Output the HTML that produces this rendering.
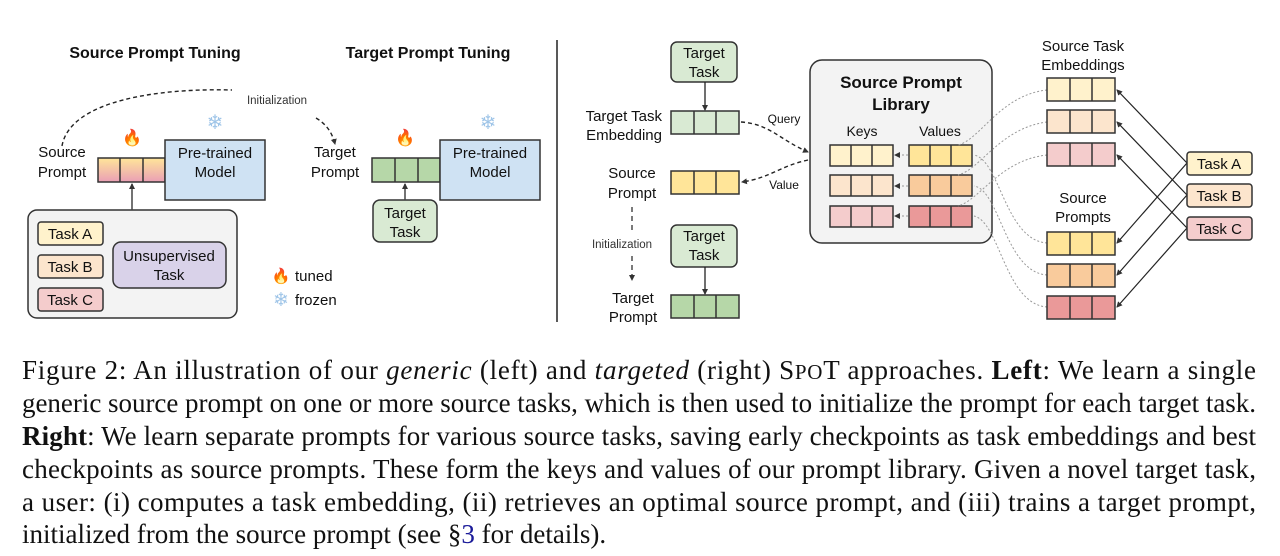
<!DOCTYPE html>
<html><head><meta charset="utf-8"><style>
html,body{margin:0;padding:0;background:#fff;}
svg{display:block;}
.s{font-family:"Liberation Sans",sans-serif;}
.c{font-family:"Liberation Serif",serif;font-size:27px;fill:#111;}
</style></head><body>
<svg width="1280" height="556" viewBox="0 0 1280 556" xmlns="http://www.w3.org/2000/svg">
<defs>
<marker id="ahs" markerWidth="6" markerHeight="6" refX="5" refY="3" orient="auto" markerUnits="userSpaceOnUse"><path d="M0,0 L6,3 L0,6 z" fill="#333"/></marker>
<linearGradient id="sp" x1="0" y1="0" x2="0" y2="1"><stop offset="0" stop-color="#ffe599"/><stop offset="1" stop-color="#ea9fb5"/></linearGradient>
</defs>
<g class="s" fill="#111">
<text x="155" y="58" font-size="16" font-weight="bold" text-anchor="middle">Source Prompt Tuning</text>
<text x="428" y="58" font-size="16" font-weight="bold" text-anchor="middle">Target Prompt Tuning</text>
<line x1="557" y1="40" x2="557" y2="322" stroke="#222" stroke-width="1.5"/>

<path d="M62,146 C70,100 160,88 232,90" fill="none" stroke="#222" stroke-width="1.4" stroke-dasharray="4,3"/>
<path d="M316,118 C326,124 332,132 335,144" fill="none" stroke="#222" stroke-width="1.4" stroke-dasharray="4,3" marker-end="url(#ahs)"/>
<text x="277" y="104" font-size="11.5" text-anchor="middle" fill="#333">Initialization</text>

<text x="62" y="157" font-size="15" text-anchor="middle">Source</text>
<text x="62" y="177" font-size="15" text-anchor="middle">Prompt</text>
<rect x="98" y="158" width="67" height="24" fill="url(#sp)" stroke="#333" stroke-width="1.5"/>
<line x1="120" y1="158" x2="120" y2="182" stroke="#333" stroke-width="1.5"/>
<line x1="143" y1="158" x2="143" y2="182" stroke="#333" stroke-width="1.5"/>
<rect x="165" y="140" width="100" height="60" fill="#cfe2f3" stroke="#333" stroke-width="1.5"/>
<text x="215" y="158" font-size="15" text-anchor="middle">Pre-trained</text>
<text x="215" y="177" font-size="15" text-anchor="middle">Model</text>
<text x="132" y="143" font-size="16" text-anchor="middle">🔥</text>
<text x="215" y="129" font-size="20" text-anchor="middle" fill="#9fc5e8">❄</text>

<rect x="28" y="210" width="209" height="108" rx="9" fill="#f3f3f3" stroke="#333" stroke-width="1.5"/>
<line x1="132" y1="210" x2="132" y2="184" stroke="#444" stroke-width="1.5" marker-end="url(#ahs)"/>
<rect x="38" y="222" width="65" height="23" rx="3" fill="#fff2cc" stroke="#333" stroke-width="1.5"/>
<text x="70" y="239" font-size="15" text-anchor="middle">Task A</text>
<rect x="38" y="255" width="65" height="23" rx="3" fill="#fce5cd" stroke="#333" stroke-width="1.5"/>
<text x="70" y="272" font-size="15" text-anchor="middle">Task B</text>
<rect x="38" y="288" width="65" height="23" rx="3" fill="#f4cccc" stroke="#333" stroke-width="1.5"/>
<text x="70" y="305" font-size="15" text-anchor="middle">Task C</text>
<rect x="113" y="242" width="113" height="46" rx="8" fill="#d9d2e9" stroke="#333" stroke-width="1.5"/>
<text x="169" y="261" font-size="15" text-anchor="middle">Unsupervised</text>
<text x="169" y="280" font-size="15" text-anchor="middle">Task</text>

<text x="281" y="281" font-size="15" text-anchor="middle">🔥</text>
<text x="295" y="281" font-size="15">tuned</text>
<text x="281" y="306" font-size="19" text-anchor="middle" fill="#9fc5e8">❄</text>
<text x="295" y="305" font-size="15">frozen</text>

<text x="335" y="157" font-size="15" text-anchor="middle">Target</text>
<text x="335" y="177" font-size="15" text-anchor="middle">Prompt</text>
<rect x="372" y="158" width="68" height="24" fill="#b6d7a8" stroke="#333" stroke-width="1.5"/>
<line x1="395" y1="158" x2="395" y2="182" stroke="#333" stroke-width="1.5"/>
<line x1="418" y1="158" x2="418" y2="182" stroke="#333" stroke-width="1.5"/>
<rect x="440" y="140" width="100" height="60" fill="#cfe2f3" stroke="#333" stroke-width="1.5"/>
<text x="490" y="158" font-size="15" text-anchor="middle">Pre-trained</text>
<text x="490" y="177" font-size="15" text-anchor="middle">Model</text>
<text x="405" y="143" font-size="16" text-anchor="middle">🔥</text>
<text x="488" y="129" font-size="20" text-anchor="middle" fill="#9fc5e8">❄</text>
<rect x="373" y="200" width="64" height="42" rx="7" fill="#d9ead3" stroke="#333" stroke-width="1.5"/>
<text x="405" y="218" font-size="15" text-anchor="middle">Target</text>
<text x="405" y="237" font-size="15" text-anchor="middle">Task</text>
<line x1="405" y1="200" x2="405" y2="184" stroke="#444" stroke-width="1.5" marker-end="url(#ahs)"/>

<rect x="671" y="42" width="66" height="40" rx="6" fill="#d9ead3" stroke="#333" stroke-width="1.5"/>
<text x="704" y="58" font-size="15" text-anchor="middle">Target</text>
<text x="704" y="77" font-size="15" text-anchor="middle">Task</text>
<line x1="705" y1="82" x2="705" y2="110" stroke="#222" stroke-width="1.3" marker-end="url(#ahs)"/>
<text x="662" y="121" font-size="15" text-anchor="end">Target Task</text>
<text x="662" y="140" font-size="15" text-anchor="end">Embedding</text>
<g stroke="#333" stroke-width="1.5">
<rect x="671" y="111" width="68" height="23" fill="#d9ead3"/><line x1="694" y1="111" x2="694" y2="134"/><line x1="716" y1="111" x2="716" y2="134"/>
<rect x="671" y="171" width="68" height="23" fill="#ffe599"/><line x1="694" y1="171" x2="694" y2="194"/><line x1="716" y1="171" x2="716" y2="194"/>
<rect x="671" y="295" width="68" height="23" fill="#b6d7a8"/><line x1="694" y1="295" x2="694" y2="318"/><line x1="716" y1="295" x2="716" y2="318"/>
</g>
<text x="632" y="178" font-size="15" text-anchor="middle">Source</text>
<text x="632" y="198" font-size="15" text-anchor="middle">Prompt</text>
<line x1="632" y1="207" x2="632" y2="230" stroke="#333" stroke-width="1.3" stroke-dasharray="5,4"/>
<text x="622" y="248" font-size="11.5" text-anchor="middle" fill="#333">Initialization</text>
<line x1="632" y1="256" x2="632" y2="280" stroke="#333" stroke-width="1.3" stroke-dasharray="5,4" marker-end="url(#ahs)"/>
<text x="633" y="303" font-size="15" text-anchor="middle">Target</text>
<text x="633" y="322" font-size="15" text-anchor="middle">Prompt</text>
<rect x="671" y="225" width="66" height="42" rx="6" fill="#d9ead3" stroke="#333" stroke-width="1.5"/>
<text x="704" y="241" font-size="15" text-anchor="middle">Target</text>
<text x="704" y="260" font-size="15" text-anchor="middle">Task</text>
<line x1="705" y1="267" x2="705" y2="294" stroke="#222" stroke-width="1.3" marker-end="url(#ahs)"/>

<path d="M741,122 C770,124 780,140 808,152" fill="none" stroke="#222" stroke-width="1.4" stroke-dasharray="4,3" marker-end="url(#ahs)"/>
<path d="M808,160 C780,166 770,178 742,182" fill="none" stroke="#222" stroke-width="1.4" stroke-dasharray="4,3" marker-end="url(#ahs)"/>
<text x="784" y="123" font-size="12" text-anchor="middle">Query</text>
<text x="784" y="189" font-size="12" text-anchor="middle">Value</text>

<rect x="810" y="60" width="182" height="183" rx="12" fill="#f3f3f3" stroke="#333" stroke-width="1.5"/>
<text x="901" y="88" font-size="17" font-weight="bold" text-anchor="middle">Source Prompt</text>
<text x="901" y="110" font-size="17" font-weight="bold" text-anchor="middle">Library</text>
<text x="862" y="136" font-size="14" text-anchor="middle">Keys</text>
<text x="940" y="136" font-size="14" text-anchor="middle">Values</text>
<g stroke="#333" stroke-width="1.5">
<rect x="830" y="145" width="63" height="21" fill="#fff2cc"/><line x1="851" y1="145" x2="851" y2="166"/><line x1="872" y1="145" x2="872" y2="166"/>
<rect x="830" y="175" width="63" height="21" fill="#fce5cd"/><line x1="851" y1="175" x2="851" y2="196"/><line x1="872" y1="175" x2="872" y2="196"/>
<rect x="830" y="206" width="63" height="21" fill="#f4cccc"/><line x1="851" y1="206" x2="851" y2="227"/><line x1="872" y1="206" x2="872" y2="227"/>
<rect x="909" y="145" width="63" height="21" fill="#ffe599"/><line x1="930" y1="145" x2="930" y2="166"/><line x1="951" y1="145" x2="951" y2="166"/>
<rect x="909" y="175" width="63" height="21" fill="#f9cb9c"/><line x1="930" y1="175" x2="930" y2="196"/><line x1="951" y1="175" x2="951" y2="196"/>
<rect x="909" y="206" width="63" height="21" fill="#ea9999"/><line x1="930" y1="206" x2="930" y2="227"/><line x1="951" y1="206" x2="951" y2="227"/>
</g>
<g stroke="#999" stroke-width="1" stroke-dasharray="2,2" fill="none">
<line x1="908" y1="155" x2="895" y2="155" marker-end="url(#ahs)"/>
<line x1="908" y1="186" x2="895" y2="186" marker-end="url(#ahs)"/>
<line x1="908" y1="216" x2="895" y2="216" marker-end="url(#ahs)"/>
<path d="M1047,90 C1000,95 980,140 958,145"/>
<path d="M1047,122 C1000,128 980,170 958,175"/>
<path d="M1047,155 C1000,160 980,200 958,206"/>
<path d="M1047,243 C1005,240 1000,160 974,155"/>
<path d="M1047,275 C1005,272 1000,190 974,186"/>
<path d="M1047,307 C1005,304 1000,222 974,216"/>
</g>

<text x="1083" y="51" font-size="15" text-anchor="middle">Source Task</text>
<text x="1083" y="70" font-size="15" text-anchor="middle">Embeddings</text>
<text x="1083" y="203" font-size="15" text-anchor="middle">Source</text>
<text x="1083" y="222" font-size="15" text-anchor="middle">Prompts</text>
<g stroke="#333" stroke-width="1.5">
<rect x="1047" y="78" width="68" height="23" fill="#fff2cc"/><line x1="1070" y1="78" x2="1070" y2="101"/><line x1="1092" y1="78" x2="1092" y2="101"/>
<rect x="1047" y="110" width="68" height="23" fill="#fce5cd"/><line x1="1070" y1="110" x2="1070" y2="133"/><line x1="1092" y1="110" x2="1092" y2="133"/>
<rect x="1047" y="143" width="68" height="23" fill="#f4cccc"/><line x1="1070" y1="143" x2="1070" y2="166"/><line x1="1092" y1="143" x2="1092" y2="166"/>
<rect x="1047" y="232" width="68" height="23" fill="#ffe599"/><line x1="1070" y1="232" x2="1070" y2="255"/><line x1="1092" y1="232" x2="1092" y2="255"/>
<rect x="1047" y="264" width="68" height="23" fill="#f9cb9c"/><line x1="1070" y1="264" x2="1070" y2="287"/><line x1="1092" y1="264" x2="1092" y2="287"/>
<rect x="1047" y="296" width="68" height="23" fill="#ea9999"/><line x1="1070" y1="296" x2="1070" y2="319"/><line x1="1092" y1="296" x2="1092" y2="319"/>
</g>
<g stroke="#222" stroke-width="1.2" marker-end="url(#ahs)">
<line x1="1187" y1="163" x2="1117" y2="90"/>
<line x1="1187" y1="195" x2="1117" y2="122"/>
<line x1="1187" y1="228" x2="1117" y2="155"/>
<line x1="1187" y1="163" x2="1117" y2="243"/>
<line x1="1187" y1="195" x2="1117" y2="275"/>
<line x1="1187" y1="228" x2="1117" y2="307"/>
</g>
<rect x="1187" y="152" width="65" height="23" rx="3" fill="#fff2cc" stroke="#333" stroke-width="1.5"/>
<text x="1219" y="169" font-size="15" text-anchor="middle">Task A</text>
<rect x="1187" y="184" width="65" height="23" rx="3" fill="#fce5cd" stroke="#333" stroke-width="1.5"/>
<text x="1219" y="201" font-size="15" text-anchor="middle">Task B</text>
<rect x="1187" y="217" width="65" height="23" rx="3" fill="#f4cccc" stroke="#333" stroke-width="1.5"/>
<text x="1219" y="234" font-size="15" text-anchor="middle">Task C</text>
</g>

<text class="c" x="22" y="379" textLength="1234" lengthAdjust="spacing">Figure 2: An illustration of our <tspan font-style="italic">generic</tspan> (left) and <tspan font-style="italic">targeted</tspan> (right) S<tspan font-size="21">P</tspan><tspan font-size="21">O</tspan>T approaches. <tspan font-weight="bold">Left</tspan>: We learn a single</text>
<text class="c" x="22" y="412" textLength="1234" lengthAdjust="spacing">generic source prompt on one or more source tasks, which is then used to initialize the prompt for each target task.</text>
<text class="c" x="22" y="445" textLength="1234" lengthAdjust="spacing"><tspan font-weight="bold">Right</tspan>: We learn separate prompts for various source tasks, saving early checkpoints as task embeddings and best</text>
<text class="c" x="22" y="478" textLength="1234" lengthAdjust="spacing">checkpoints as source prompts. These form the keys and values of our prompt library. Given a novel target task,</text>
<text class="c" x="22" y="511" textLength="1234" lengthAdjust="spacing">a user: (i) computes a task embedding, (ii) retrieves an optimal source prompt, and (iii) trains a target prompt,</text>
<text class="c" x="22" y="543">initialized from the source prompt (see §<tspan fill="#1a1a99">3</tspan> for details).</text>
</svg>
</body></html>
